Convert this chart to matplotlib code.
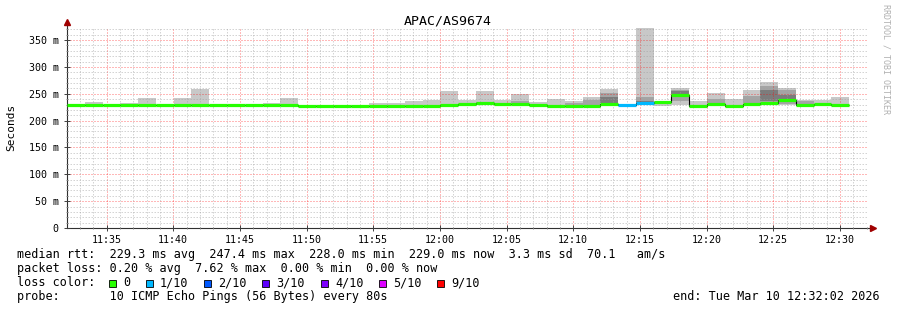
import numpy as np
import matplotlib
matplotlib.use("Agg")
import matplotlib.pyplot as plt
from matplotlib.patches import Rectangle

# ---------------- data ----------------
title = "APAC/AS9674"
start_label = "11:32:02"
step_seconds = 80

median_ms = [228.5, 228.5, 228.5, 228.5, 228.5, 228.5, 228.5, 228.5, 228.5, 228.5,
             228.5, 228.5, 229.5, 228.0, 228.0, 228.0, 228.0, 228.0, 228.0, 228.0,
             228.0, 228.5, 231.0, 232.0, 231.5, 231.0, 230.0, 228.0, 228.0, 228.0,
             231.0, 229.5, 233.5, 235.5, 247.0, 227.5, 231.0, 228.0, 231.0, 232.5,
             238.5, 230.0, 231.0, 230.0]
loss_index = [0] * 31 + [1, 1] + [0] * 11

smoke_lo = [227, 227, 227, 227, 227, 227, 227, 227, 227, 227,
            227, 227, 228, 226.5, 226.5, 226.5, 226.5, 226.5, 226.5, 226.5,
            226.5, 227, 229.5, 230.5, 230, 229.5, 228.5, 226.5, 226.5, 226.5,
            229.5, 228, 232, 228, 230, 226, 229.5, 226.5, 229.5, 231,
            230, 228.5, 229.5, 228.5]
smoke_hi = [230, 234.5, 230, 232.7, 242, 230, 242, 259.5, 230, 230,
            230, 232.7, 242, 229.5, 229.5, 229.5, 230, 232, 232, 237,
            239, 255.5, 238.5, 255.5, 238.5, 250, 234.6, 240, 236.5, 244,
            259, 231, 372, 236.5, 261, 236.5, 252, 240, 257.5, 271,
            261, 239, 239, 244]
nan = np.nan
mid_lo = [nan] * 23 + [230.5, nan, 232, nan, nan, 229.5, 229.5, 232, nan, 232, nan,
                       236, nan, 232, nan, 232, 233, 231, 230, nan, nan]
mid_hi = [nan] * 23 + [234, nan, 237, nan, nan, 233, 238, 251, nan, 244.5, nan,
                       257, nan, 240, nan, 246, 264, 257, 236.5, nan, nan]
core_lo = [nan] * 30 + [233, nan, 233, nan, 249, nan, nan, nan, nan, 236, 240, nan, nan, nan]
core_hi = [nan] * 30 + [244.5, nan, 237, nan, 256, nan, nan, nan, nan, 257, 247, nan, nan, nan]

x_tick_labels = ["11:35", "11:40", "11:45", "11:50", "11:55", "12:00",
                 "12:05", "12:10", "12:15", "12:20", "12:25", "12:30"]
y_ticks = [0, 50, 100, 150, 200, 250, 300, 350]
y_tick_labels = ["0", "50 m", "100 m", "150 m", "200 m", "250 m", "300 m", "350 m"]
y_max = 372.5

loss_labels = ["0", "1/10", "2/10", "3/10", "4/10", "5/10", "9/10"]
loss_colors = ["#26ff00", "#00b8ff", "#0059ff", "#5e00ff", "#7e00ff", "#dd00ff", "#ff0000"]

legend_line1 = "median rtt:  229.3 ms avg  247.4 ms max  228.0 ms min  229.0 ms now  3.3 ms sd  70.1   am/s"
legend_line2 = "packet loss: 0.20 % avg  7.62 % max  0.00 % min  0.00 % now"
legend_line3 = "loss color:"
legend_line4 = "probe:       10 ICMP Echo Pings (56 Bytes) every 80s"
end_text = "end: Tue Mar 10 12:32:02 2026"
credit = "RRDTOOL / TOBI OETIKER"

# ---------------- helpers ----------------
def hm_to_min(s):
    parts = [int(p) for p in s.split(":")]
    m = parts[0] * 60 + parts[1]
    if len(parts) > 2:
        m += parts[2] / 60.0
    return m

W, H = 897, 310
plt.rcParams['font.family'] = ['DejaVu Sans Mono']

fig = plt.figure(figsize=(W / 100, H / 100), dpi=100)
fig.patch.set_facecolor("white")
ax = fig.add_axes([67 / W, 82 / H, 800 / W, 200 / H])
ax.set_facecolor("white")

t0 = hm_to_min(start_label)
n = len(median_ms)
step_min = step_seconds / 60.0
edges = t0 + np.arange(n + 1) * step_min
lefts = edges[:-1]

def bars(lo, hi, color):
    lo = np.asarray(lo, float)
    hi = np.asarray(hi, float)
    ok = ~np.isnan(lo) & ~np.isnan(hi)
    ax.bar(lefts[ok], hi[ok] - lo[ok], bottom=lo[ok], width=step_min, align="edge",
           color=color, linewidth=0, zorder=1)

bars(smoke_lo, smoke_hi, "#c8c8c8")
bars(mid_lo, mid_hi, "#a4a4a4")
bars(core_lo, core_hi, "#7c7c7c")

# median: thin black stairs + colored segments
ax.stairs(median_ms, edges, baseline=None, color="black", linewidth=0.8, zorder=3)
seg_colors = [loss_colors[i] for i in loss_index]
ax.hlines(median_ms, edges[:-1], edges[1:], colors=seg_colors, linewidth=2.3,
          zorder=4, capstyle="butt")

# axes limits and ticks
ax.set_xlim(t0, t0 + 60)
ax.set_ylim(0, y_max)
major_x = [hm_to_min(s) for s in x_tick_labels]
ax.set_xticks(major_x)
ax.set_xticklabels(x_tick_labels)
minor_x = np.arange(np.ceil(t0), t0 + 60, 1.0)
ax.set_xticks(minor_x, minor=True)
ax.set_yticks(y_ticks)
ax.set_yticklabels(y_tick_labels)
ax.set_yticks(np.arange(0, y_max, 10), minor=True)

ax.set_axisbelow(False)
ax.grid(which="minor", color="#a0a0a0", alpha=0.45, linewidth=0.72,
        linestyle=(0, (1.5, 1.5)))
ax.grid(which="major", color="#ff0000", alpha=0.28, linewidth=0.72,
        linestyle=(0, (1.5, 1.5)))
for gl in ax.get_xgridlines() + ax.get_ygridlines():
    gl.set_zorder(2)
    gl.set_antialiased(False)

ax.tick_params(which="major", direction="inout", length=4, width=0.7,
               color="#404040", labelsize=7.2, pad=3)
ax.tick_params(which="minor", direction="inout", length=2, width=0.6, color="#808080")
ax.tick_params(axis="y", pad=4)

for side in ("top", "right"):
    ax.spines[side].set_visible(False)
for side in ("left", "bottom"):
    ax.spines[side].set_color("#303030")
    ax.spines[side].set_linewidth(0.8)

# arrows at axis ends
ax.plot([0, 0], [1.0, 1.02], transform=ax.transAxes, color="#303030", lw=0.8, clip_on=False)
ax.plot([1.0, 1.003], [0, 0], transform=ax.transAxes, color="#303030", lw=0.8, clip_on=False)
ax.plot([0], [1.03], marker="^", markersize=4.5, color="#a00000",
        transform=ax.transAxes, clip_on=False)
ax.plot([1.0075], [0], marker=">", markersize=4.5, color="#a00000",
        transform=ax.transAxes, clip_on=False)

# titles / labels
def fx(px):
    return px / W

def fy(py):
    return 1 - py / H

fig.text(fx(448), fy(24), title, ha="center", va="baseline", fontsize=9.5)
fig.text(fx(11), fy(127), "Seconds", rotation=90, ha="center", va="center", fontsize=8)
fig.text(fx(886), fy(4), credit, rotation=270, ha="center", va="top",
         fontsize=6, color="#b0b0b0")

# legend
fs = 8.5
x0 = 16.7
fig.text(fx(x0), fy(258), legend_line1, ha="left", va="baseline", fontsize=fs)
fig.text(fx(x0), fy(272), legend_line2, ha="left", va="baseline", fontsize=fs)
fig.text(fx(x0), fy(286), legend_line3, ha="left", va="baseline", fontsize=fs)
fig.text(fx(x0), fy(300), legend_line4, ha="left", va="baseline", fontsize=fs)
fig.text(fx(880), fy(300), end_text, ha="right", va="baseline", fontsize=fs)

cw = 7.11
sq_x = 108.7
for lab, col in zip(loss_labels, loss_colors):
    fig.patches.append(Rectangle((fx(sq_x), fy(286.5)), 7 / W, 7 / H,
                                 transform=fig.transFigure, facecolor=col,
                                 edgecolor="black", linewidth=0.6))
    fig.text(fx(sq_x + 14.3), fy(286), lab, ha="left", va="baseline", fontsize=fs)
    sq_x += (len(lab) + 4.2) * cw

fig.savefig("out.png", dpi=100, facecolor="white")
